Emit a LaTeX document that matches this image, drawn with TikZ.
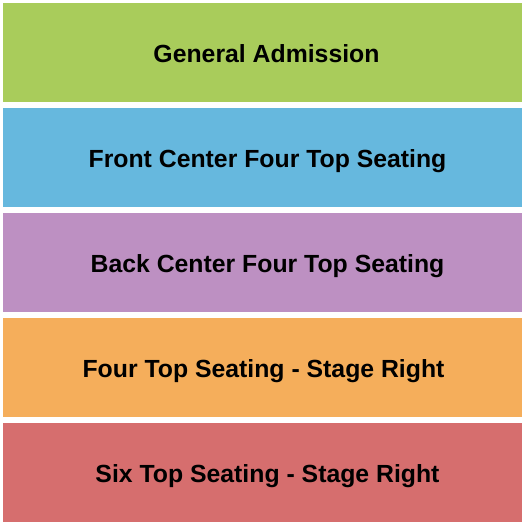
\documentclass[tikz,border=0pt]{standalone}
\usepackage{fontspec}
\setmainfont{Liberation Sans}
\usepackage{xcolor}
\usepackage{tikz}
\definecolor{ga}{HTML}{A9CC5B}
\definecolor{front}{HTML}{66B8DE}
\definecolor{back}{HTML}{BD90C2}
\definecolor{four}{HTML}{F5AE5B}
\definecolor{six}{HTML}{D66E6E}
\tikzset{
  zone/.style={minimum width=519pt, minimum height=99pt, inner sep=0pt, outer sep=0pt},
  zonetext/.style={inner sep=0pt, font=\fontsize{24.8}{28}\selectfont\bfseries, text=black},
}

\begin{document}
\begin{tikzpicture}[x=1pt,y=1pt]
  \useasboundingbox (0,0) rectangle (525,-525);
  \foreach \name/\col/\dx/\dy/\txt [count=\i] in {
      ga/ga/4/-1/General Admission,
      front/front/5/-4/Front Center Four Top Seating,
      back/back/5/-4/Back Center Four Top Seating,
      fourright/four/1/-4/Four Top Seating - Stage Right,
      sixright/six/5/-4/Six Top Seating - Stage Right} {
    \node[zone, fill=\col] (\name) at (262.5,{-52.5-105*(\i-1)}) {};
    \node[zonetext] (\name-label) at ([shift={(\dx,\dy)}]\name.center) {\txt};
  }
\end{tikzpicture}
\end{document}
